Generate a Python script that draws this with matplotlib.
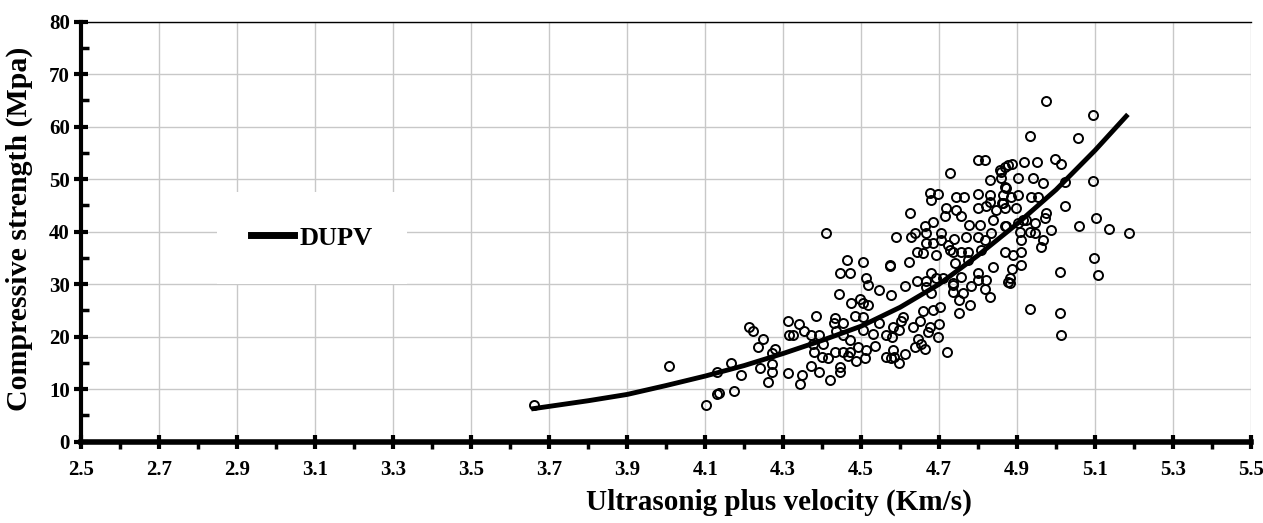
import numpy as np
import matplotlib
matplotlib.use('Agg')
import matplotlib.pyplot as plt
from matplotlib.ticker import MultipleLocator

plt.rcParams['font.family'] = ['Liberation Serif', 'DejaVu Serif']

# measured points (velocity km/s, strength MPa)
vel = [3.66, 4.007, 4.101, 4.13, 4.135, 4.173, 4.129, 4.165, 4.191, 4.212, 4.223, 4.248, 4.235,
       4.279, 4.272, 4.240, 4.272, 4.272, 4.262, 4.313, 4.315, 4.312,
       4.445, 4.472, 4.512, 4.517, 4.547, 4.576, 4.442, 4.473, 4.496, 4.505, 4.517, 4.385, 4.340,
       4.324, 4.353, 4.432, 4.453, 4.430, 4.483, 4.505, 4.546, 4.372, 4.392, 4.376, 4.402, 4.436,
       4.453, 4.471, 4.505, 4.530, 4.565, 4.582, 4.535, 4.513, 4.492, 4.471, 4.378, 4.400, 4.415,
       4.432, 4.453, 4.466, 4.488, 4.509, 4.565, 4.582, 4.577, 4.349, 4.344, 4.372, 4.392, 4.419,
       4.447, 4.447,
       4.411, 4.590, 4.464, 4.505, 4.575,
       4.800, 4.817, 4.729, 4.676, 4.697, 4.680, 4.744, 4.763, 4.800, 4.830, 4.858, 4.858, 4.868,
       4.830, 4.830, 4.860, 4.626, 4.717, 4.714, 4.744, 4.757, 4.800, 4.821, 4.847, 4.868, 4.838,
       4.868, 4.776, 4.804, 4.684, 4.663, 4.667, 4.637, 4.629, 4.706, 4.706, 4.684, 4.722, 4.739,
       4.770, 4.800, 4.817, 4.834, 4.659, 4.693, 4.727, 4.757, 4.774, 4.808, 4.868,
       4.573, 4.623, 4.742, 4.838, 4.800, 4.800, 4.821, 4.876, 4.613, 4.643, 4.666, 4.679, 4.693,
       4.667, 4.680, 4.735, 4.735, 4.752, 4.761, 4.782, 4.780, 4.750, 4.830, 4.817, 4.659, 4.684,
       4.703, 4.607, 4.603, 4.597, 4.578, 4.650, 4.633, 4.676, 4.700, 4.671, 4.697, 4.646, 4.654,
       4.637, 4.663, 4.720, 4.612, 4.597, 4.583,
       4.975, 5.094, 4.932, 5.057, 4.996, 5.012, 4.917, 4.950, 4.888, 4.868, 4.902, 4.940, 4.966,
       5.023, 5.094, 4.885, 4.902, 4.936, 4.953, 5.022, 5.103, 5.137, 5.187, 5.058, 4.975, 4.971,
       4.945, 4.915, 4.902, 4.907, 4.945, 4.988, 4.966, 4.962, 4.911, 4.911, 4.889, 5.098,
       5.107, 5.010, 4.932, 5.010, 5.012, 4.909, 4.888, 4.883, 4.883,
       4.710, 4.735, 4.757, 4.774, 4.872, 4.865, 4.898, 4.864, 4.872, 4.924, 4.932, 4.642, 4.667,
       4.735, 4.855, 4.876]
strength = [7.0, 14.4, 7.0, 9.0, 9.2, 9.6, 13.3, 15.0, 12.7, 21.8, 21.0, 19.5, 18.1,
            17.7, 16.8, 14.0, 14.8, 13.3, 11.3, 22.9, 20.3, 13.1,
            32.2, 32.2, 31.1, 29.8, 28.9, 27.9, 28.1, 26.5, 27.1, 26.4, 26.0, 24.0, 22.5,
            20.3, 21.0, 23.5, 22.7, 22.6, 24.0, 23.7, 22.7, 20.3, 20.3, 18.7, 18.7, 21.0,
            20.3, 19.4, 21.3, 20.6, 20.3, 21.9, 18.2, 17.5, 18.1, 17.1, 17.1, 16.2, 15.9,
            17.1, 17.1, 16.3, 15.4, 15.9, 16.2, 17.5, 15.9, 12.7, 10.9, 14.5, 13.2, 11.8,
            14.3, 13.3,
            39.7, 38.9, 34.7, 34.3, 33.5,
            53.7, 53.7, 51.1, 47.3, 47.2, 46.0, 46.6, 46.6, 47.2, 49.8, 51.4, 50.2, 48.6,
            47.0, 45.7, 45.4, 43.5, 44.6, 43.0, 44.1, 42.9, 44.5, 44.8, 44.1, 44.5, 42.2,
            41.0, 41.3, 41.3, 41.9, 41.0, 39.7, 39.7, 39.0, 39.7, 38.4, 37.9, 37.5, 38.6,
            39.0, 39.0, 38.4, 39.7, 35.9, 35.6, 36.5, 36.2, 36.2, 36.5, 36.2,
            33.7, 34.3, 34.0, 33.3, 32.1, 30.8, 30.8, 30.5, 29.7, 30.7, 30.7, 32.2, 31.1,
            29.5, 28.4, 29.8, 28.6, 27.0, 28.3, 29.7, 26.0, 24.6, 27.5, 29.0, 24.8, 25.0,
            25.6, 23.8, 22.9, 21.3, 20.0, 22.9, 21.9, 21.8, 22.4, 20.8, 19.9, 19.5, 18.7,
            18.0, 17.6, 17.1, 16.7, 14.9, 16.2,
            64.8, 62.2, 58.2, 57.9, 53.8, 52.9, 53.3, 53.3, 52.9, 52.4, 50.2, 50.2, 49.3,
            49.5, 49.7, 46.7, 47.0, 46.6, 46.6, 44.8, 42.6, 40.6, 39.7, 41.1, 43.5, 42.6,
            41.6, 42.2, 41.6, 40.0, 39.7, 40.3, 38.5, 37.1, 38.4, 36.2, 35.6, 34.9,
            31.8, 32.4, 25.2, 24.6, 20.3, 33.7, 32.8, 31.1, 30.2,
            31.1, 30.2, 31.4, 34.6, 48.3, 47.0, 44.5, 45.4, 41.0, 42.2, 40.0, 36.2, 37.8,
            36.2, 51.8, 52.7]

# DUPV trend curve
fit_x = [3.66, 3.8, 3.9, 4.0, 4.1, 4.2, 4.3, 4.4, 4.5, 4.6, 4.7, 4.8, 4.9, 5.0, 5.1, 5.18]
fit_y = [6.3, 7.8, 9.0, 10.7, 12.5, 14.5, 16.8, 19.3, 22.0, 25.6, 30.0, 35.5, 41.5, 48.0, 55.5, 62.0]

fig = plt.figure(figsize=(12.63, 5.23), dpi=100)
ax = fig.add_axes([0.0645, 0.1555, 0.926, 0.803])

ax.plot(vel, strength, 'o', ms=6.5, mfc='none', mec='black', mew=1.4, zorder=3)
ax.plot(fit_x, fit_y, '-', color='black', lw=3.5, label='DUPV', zorder=4)

ax.set_xlim(2.5, 5.5)
ax.set_ylim(0, 80)
ax.xaxis.set_minor_locator(MultipleLocator(0.1))
ax.yaxis.set_major_locator(MultipleLocator(10))
ax.yaxis.set_minor_locator(MultipleLocator(5))
xt = np.round(np.arange(2.5, 5.51, 0.2), 1)
ax.set_xticks(xt)
ax.set_xticklabels(['%.1f' % v for v in xt])

ax.grid(True, which='major', color='#c8c8c8', lw=1, zorder=0)
ax.tick_params(axis='both', which='major', direction='inout', length=10, width=3,
               labelsize=15)
ax.tick_params(axis='x', which='major', pad=8)
ax.tick_params(axis='y', which='minor', direction='in', length=6, width=2.5)
ax.tick_params(axis='x', which='minor', direction='out', length=5, width=2.5)
for lab in ax.get_xticklabels() + ax.get_yticklabels():
    lab.set_fontweight('bold')

ax.spines['left'].set_linewidth(3)
ax.spines['bottom'].set_linewidth(4)
ax.spines['top'].set_linewidth(1)
ax.spines['right'].set_visible(False)

ax.set_xlabel('Ultrasonig plus velocity (Km/s)', fontsize=21, fontweight='bold')
ax.set_ylabel('Compressive strength (Mpa)', fontsize=21.5, fontweight='bold')
ax.xaxis.set_label_coords(0.596, -0.112)
ax.yaxis.set_label_coords(-0.0415, 0.508)

leg = ax.legend(loc='center', bbox_to_anchor=(0.197, 0.485), frameon=True, fancybox=False,
                borderpad=1.3, handlelength=1.63, handletextpad=0.2,
                prop={'weight': 'bold', 'size': 19})
leg.get_frame().set_edgecolor('none')
leg.get_frame().set_facecolor('white')
leg.get_frame().set_alpha(1)
leg.get_lines()[0].set_linewidth(5)

fig.savefig('out.png', dpi=100)
